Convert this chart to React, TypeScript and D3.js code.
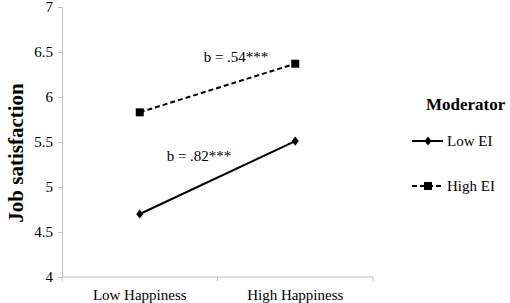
import React, { useEffect, useRef } from 'react'
import * as d3 from 'd3'

const categories = ['Low Happiness', 'High Happiness']
const lowEI = [4.70, 5.51]
const highEI = [5.83, 6.37]
const yTicks = [4, 4.5, 5, 5.5, 6, 6.5, 7]
const slopeLabels = ['b = .82***', 'b = .54***']

const FONT = "'Liberation Serif', 'Times New Roman', Times, 'DejaVu Serif', serif"

export default function App() {
  const ref = useRef<SVGSVGElement>(null)

  useEffect(() => {
    const width = 510
    const height = 303
    const svg = d3.select(ref.current)
    svg.selectAll('*').remove()
    svg.style('font-family', FONT)

    const left = 62, right = 373, top = 7, bottom = 277

    // band scale so points sit mid-way in each category slot
    const x = d3.scaleBand().domain(categories).range([left, right])
    const y = d3.scaleLinear().domain([4, 7]).range([bottom, top])
    const cx = (c: string) => (x(c) as number) + x.bandwidth() / 2

    const axisColor = '#bfbfbf'

    // y axis
    const yAxis = svg.append('g').attr('transform', `translate(${left},0)`)
      .call(d3.axisLeft(y).tickValues(yTicks).tickSize(4).tickPadding(5).tickFormat(d => String(d)))
    yAxis.attr('font-family', null).attr('font-size', null)
    yAxis.select('.domain').attr('stroke', axisColor)
    yAxis.selectAll('line').attr('stroke', axisColor)
    yAxis.selectAll('text').style('font-family', FONT).attr('font-size', 15).attr('fill', '#000')

    // x axis: ticks at category boundaries
    svg.append('line').attr('x1', left).attr('x2', right).attr('y1', bottom).attr('y2', bottom).attr('stroke', axisColor)
    const bounds = [left, ...categories.map(c => (x(c) as number) + x.bandwidth())]
    svg.selectAll('.xt').data(bounds).enter().append('line')
      .attr('x1', d => d).attr('x2', d => d).attr('y1', bottom).attr('y2', bottom + 4).attr('stroke', axisColor)
    svg.selectAll('.xl').data(categories).enter().append('text')
      .attr('x', d => cx(d)).attr('y', 300).attr('text-anchor', 'middle')
      .attr('font-size', 15).text(d => d)

    // y title
    svg.append('text')
      .attr('transform', `translate(23,153) rotate(-90)`)
      .attr('text-anchor', 'middle').attr('font-size', 21)
      .attr('font-weight', 'bold').text('Job satisfaction')

    const line = d3.line<number>().x((_, i) => cx(categories[i])).y(d => y(d))

    // Low EI: solid with diamonds
    svg.append('path').datum(lowEI).attr('d', line).attr('fill', 'none').attr('stroke', '#000').attr('stroke-width', 2)
    svg.selectAll('.dia').data(lowEI).enter().append('path')
      .attr('d', d3.symbol(d3.symbolDiamond, 30)())
      .attr('transform', (d, i) => `translate(${cx(categories[i])},${y(d)}) scale(1.2,0.9)`)
    // High EI: dashed with squares
    svg.append('path').datum(highEI).attr('d', line).attr('fill', 'none').attr('stroke', '#000')
      .attr('stroke-width', 2).attr('stroke-dasharray', '5,3')
    svg.selectAll('.sq').data(highEI).enter().append('rect')
      .attr('x', (d, i) => cx(categories[i]) - 4).attr('y', d => y(d) - 4).attr('width', 8).attr('height', 8)

    // slope labels
    svg.append('text').attr('x', 199).attr('y', 161).attr('text-anchor', 'middle')
      .attr('font-size', 15).text(slopeLabels[0])
    svg.append('text').attr('x', 236).attr('y', 62).attr('text-anchor', 'middle')
      .attr('font-size', 15).text(slopeLabels[1])

    // legend
    svg.append('text').attr('x', 426).attr('y', 110).attr('font-size', 17)
      .attr('font-weight', 'bold').text('Moderator')
    const lg = svg.append('g')
    lg.append('line').attr('x1', 412).attr('x2', 443).attr('y1', 141).attr('y2', 141).attr('stroke', '#000').attr('stroke-width', 2)
    lg.append('path').attr('d', d3.symbol(d3.symbolDiamond, 30)()).attr('transform', 'translate(428,141) scale(1.2,0.9)')
    lg.append('text').attr('x', 447).attr('y', 146).attr('font-size', 15).text('Low EI')
    lg.append('line').attr('x1', 412).attr('x2', 443).attr('y1', 186).attr('y2', 186).attr('stroke', '#000')
      .attr('stroke-width', 2).attr('stroke-dasharray', '5,3')
    lg.append('rect').attr('x', 424).attr('y', 182).attr('width', 8).attr('height', 8)
    lg.append('text').attr('x', 447).attr('y', 191).attr('font-size', 15).text('High EI')

    svg.attr('width', width).attr('height', height)
  }, [])

  return <svg ref={ref} style={{ position: 'absolute', left: 0, top: 0, background: '#fff' }} />
}
